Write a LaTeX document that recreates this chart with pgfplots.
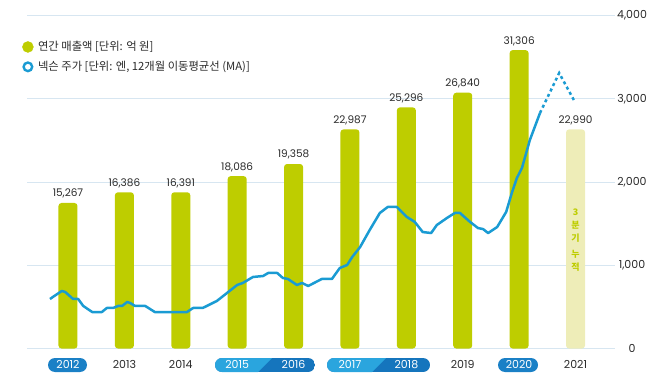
\documentclass[border=0pt]{standalone}
\usepackage{pgfplots}
\pgfplotsset{compat=1.18}
\usepackage{fontspec}
\setmainfont{Poppins}
\newfontfamily\kr{Noto Sans CJK KR}
\definecolor{barg}{HTML}{BECD00}
\definecolor{barl}{HTML}{EEEDB8}
\definecolor{lineb}{HTML}{1A9BD3}
\definecolor{pill}{HTML}{1A80C6}
\definecolor{pilll}{HTML}{2AA5DE}
\definecolor{pilld}{HTML}{1575BD}
\definecolor{gridc}{HTML}{D7E6F1}
\definecolor{txt}{HTML}{2A2A2A}

\pgfplotstableread{
x y lab
0 15267 15,267
1 16386 16,386
2 16391 16,391
3 18086 18,086
4 19358 19,358
5 22987 22,987
6 25296 25,296
7 26840 26,840
8 31306 31,306
}\sales

\pgfplotstableread{
x y
-0.32 595
-0.11 691
-0.05 679
0.09 595
0.18 595
0.27 511
0.43 438
0.60 438
0.69 487
0.80 487
0.89 511
0.96 511
1.05 559
1.10 547
1.19 511
1.37 511
1.54 438
2.11 438
2.22 487
2.39 487
2.64 571
2.82 667
3.00 763
3.10 787
3.28 859
3.46 871
3.55 907
3.71 907
3.81 847
3.90 835
4.06 763
4.15 787
4.26 751
4.50 835
4.68 835
4.82 967
4.95 1003
5.04 1099
5.18 1219
5.35 1423
5.53 1628
5.67 1700
5.83 1700
6.01 1580
6.15 1520
6.29 1399
6.44 1387
6.54 1483
6.72 1568
6.86 1628
6.95 1628
7.13 1520
7.27 1447
7.36 1435
7.45 1387
7.61 1459
7.77 1640
7.87 1868
7.96 2048
8.05 2168
8.14 2384
8.19 2504
8.37 2829
}\price

\pgfplotsset{base/.style={at={(27pt,26.5pt)}, anchor=south west, scale only axis,
  width=588pt, height=333pt, xmin=-0.727, xmax=9.70, clip=false}}

\begin{document}
\begin{tikzpicture}
\path[use as bounding box] (0pt,0pt) rectangle (658pt,375pt);
% year pills
\fill[pill,rounded corners=7pt] (48pt,3pt) rectangle (87pt,17pt);
\fill[pill,rounded corners=7pt] (498pt,3pt) rectangle (538pt,17pt);
\begin{scope}
\clip[rounded corners=7pt] (215pt,3pt) rectangle (315pt,17pt);
\fill[pilld] (215pt,3pt) rectangle (315pt,17pt);
\fill[pilll] (215pt,3pt) -- (258pt,3pt) -- (272pt,17pt) -- (215pt,17pt) -- cycle;
\end{scope}
\begin{scope}
\clip[rounded corners=7pt] (327pt,3pt) rectangle (430pt,17pt);
\fill[pilld] (327pt,3pt) rectangle (430pt,17pt);
\fill[pilll] (327pt,3pt) -- (372pt,3pt) -- (386pt,17pt) -- (327pt,17pt) -- cycle;
\end{scope}

% grid, ticks and legend
\begin{axis}[base, ymin=0, ymax=4000,
  axis line style={draw=none}, major tick length=0pt,
  ytick={0,1000,2000,3000,4000}, yticklabel pos=right,
  ymajorgrids, grid style={gridc, line width=0.8pt},
  /pgf/number format/assume math mode=true,
  /pgf/number format/1000 sep={,},
  yticklabel style={anchor=center, xshift=17pt, font=\fontsize{11}{13}\selectfont, text=txt},
  xtick={0,...,9},
  xticklabels={\textcolor{white}{2012},2013,2014,\textcolor{white}{2015},\textcolor{white}{2016},\textcolor{white}{2017},\textcolor{white}{2018},2019,\textcolor{white}{2020},2021},
  xticklabel style={anchor=center, yshift=-16pt, font=\fontsize{11}{13}\selectfont, text=txt},
  legend style={at={(-0.0085,0.927)}, anchor=north west, draw=none, fill=none,
    inner sep=0pt, row sep=6pt, nodes={inner sep=1.5pt, text=txt},
    font=\kr\fontsize{11.3}{13}\selectfont},
  legend cell align=left]
\addlegendimage{legend image code/.code={\fill[barg] (7pt,0pt) circle (5.5pt);}}
\addlegendentry{\hspace{3pt}연간 매출액 [단위: 억 원]}
\addlegendimage{legend image code/.code={\draw[lineb, line width=2.4pt] (7pt,0pt) circle (4.3pt);}}
\addlegendentry{\hspace{3pt}넥슨 주가 [단위: 엔, 12개월 이동평균선 (MA)]}
\end{axis}

% bars axis
\begin{axis}[base, ymin=0, ymax=34940,
  hide axis, ybar, bar width=19pt,
  nodes near coords, point meta=explicit symbolic,
  nodes near coords style={font=\fontsize{10.5}{12}\selectfont, text=txt, anchor=south, yshift=1pt}]
\addplot[fill=barg, draw=none, rounded corners=3pt, bar shift=0pt] table[x=x,y=y,meta=lab] {\sales};
\addplot[fill=barl, draw=none, rounded corners=3pt, bar shift=0pt] table[x=x,y=y,meta=lab] {
x y lab
9 22990 22,990
};
\end{axis}

% line axis
\begin{axis}[base, ymin=0, ymax=4000, hide axis]
\addplot[lineb, line width=2.5pt, line join=round, no marks] table[x=x,y=y] {\price};
\addplot[lineb, line width=2.5pt, dash pattern=on 3pt off 3pt, no marks] coordinates {(8.37,2829) (8.71,3309) (8.97,2985)};
\node[font=\kr\fontsize{9}{13}\selectfont\bfseries, text=barg, align=center] at (axis cs:9,1300) {3\\분\\기\\[3pt]누\\적};
\end{axis}
\end{tikzpicture}
\end{document}
